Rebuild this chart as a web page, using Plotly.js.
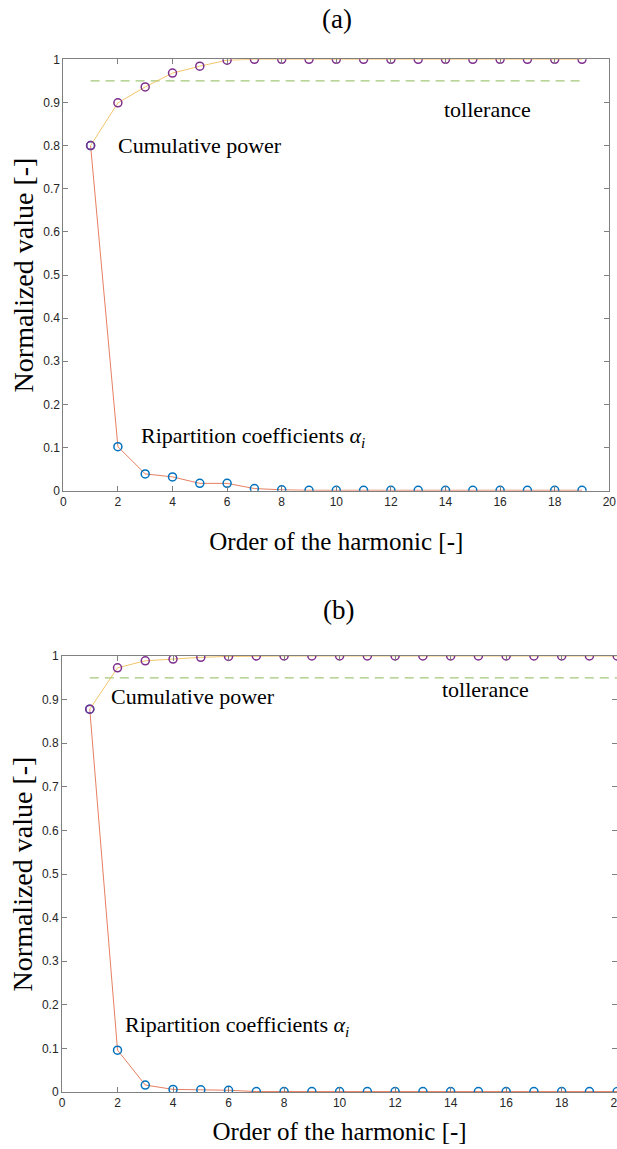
<!DOCTYPE html>
<html>
<head>
<meta charset="utf-8">
<script src="https://cdn.plot.ly/plotly-3.0.1.min.js"></script>
<style>
html,body{margin:0;padding:0;width:617px;height:1149px;overflow:hidden;background:#fff;}
#chart{width:640px;height:1149px;}
</style>
</head>
<body>
<div id="chart"></div>
<script>
// ---- Data (a) ----
const orderA = [1,2,3,4,5,6,7,8,9,10,11,12,13,14,15,16,17,18,19];
const ripartA = [0.800,0.102,0.039,0.032,0.017,0.017,0.005,0.002,0.001,0.001,0.001,0.001,0.001,0.001,0.001,0.001,0.001,0.001,0.001];
const cumulA = [0.800,0.899,0.936,0.968,0.984,0.998,1.000,1.000,1.000,1.000,1.000,1.000,1.000,1.000,1.000,1.000,1.000,1.000,1.000];
const tolXA = [1,19];
const tolYA = [0.95,0.95];

// ---- Data (b) ----
const orderB = [1,2,3,4,5,6,7,8,9,10,11,12,13,14,15,16,17,18,19,20];
const ripartB = [0.878,0.096,0.016,0.006,0.005,0.004,0.001,0.001,0.001,0.001,0.001,0.001,0.001,0.001,0.001,0.001,0.001,0.001,0.001,0.001];
const cumulB = [0.878,0.973,0.989,0.993,0.997,0.999,1.000,1.000,1.000,1.000,1.000,1.000,1.000,1.000,1.000,1.000,1.000,1.000,1.000,1.000];
const tolXB = [1,20];
const tolYB = [0.95,0.95];

const xTicks = [0,2,4,6,8,10,12,14,16,18,20];
const yTicks = [0,0.1,0.2,0.3,0.4,0.5,0.6,0.7,0.8,0.9,1];

const serif = 'Liberation Serif, Times New Roman, serif';
const sans = 'Liberation Sans, Arial, sans-serif';

const redLine = '#E2704F', yelLine = '#F0BE5A', blueMk = '#0072BD', purpMk = '#7E2F8E', green = '#A3C87A';

function traces(xs, rip, cum, tx, ty, xa, ya){
  return [
    {x: tx, y: ty, xaxis: xa, yaxis: ya, mode: 'lines', type: 'scatter',
     line: {color: green, width: 1.2, dash: '9px,6px'}, hoverinfo: 'skip'},
    {x: xs, y: rip, xaxis: xa, yaxis: ya, mode: 'lines+markers', type: 'scatter',
     line: {color: redLine, width: 0.9},
     marker: {symbol: 'circle-open', size: 8, color: blueMk, line: {width: 1.5, color: blueMk}}},
    {x: xs, y: cum, xaxis: xa, yaxis: ya, mode: 'lines+markers', type: 'scatter',
     line: {color: yelLine, width: 0.9},
     marker: {symbol: 'circle-open', size: 8, color: purpMk, line: {width: 1.5, color: purpMk}}}
  ];
}

const data = [].concat(
  traces(orderA, ripartA, cumulA, tolXA, tolYA, 'x', 'y'),
  traces(orderB, ripartB, cumulB, tolXB, tolYB, 'x2', 'y2')
);

function xaxisDef(dom, anchor, standoff){
  return {domain: dom, anchor: anchor, range: [0,20], tickvals: xTicks, ticktext: xTicks.map(String),
    ticks: 'inside', ticklen: 5, tickcolor: '#808080', showline: true, linecolor: '#808080', linewidth: 1,
    mirror: 'ticks', showgrid: false, zeroline: false,
    tickfont: {family: sans, size: 12, color: '#262626'},
    title: {text: 'Order of the harmonic [-]', font: {family: serif, size: 25, color: '#000'}, standoff: standoff}};
}
function yaxisDef(dom, anchor){
  return {domain: dom, anchor: anchor, range: [0,1], tickvals: yTicks, ticktext: yTicks.map(String),
    ticks: 'inside', ticklen: 5, tickcolor: '#808080', showline: true, linecolor: '#808080', linewidth: 1,
    mirror: 'ticks', showgrid: false, zeroline: false,
    tickfont: {family: sans, size: 12, color: '#262626'},
    title: {text: 'Normalized value [-]', font: {family: serif, size: 28, color: '#000'}, standoff: 1}};
}

const H = 1149, W = 640;
const layout = {
  width: W, height: H, margin: {l: 0, r: 0, t: 0, b: 0},
  paper_bgcolor: '#fff', plot_bgcolor: '#fff', showlegend: false,
  xaxis: xaxisDef([63.3/W, 609.3/W], 'y', 24),
  yaxis: yaxisDef([1-490.7/H, 1-59.3/H], 'x'),
  xaxis2: xaxisDef([62/W, 617.2/W], 'y2', 13),
  yaxis2: yaxisDef([1-1092/H, 1-656/H], 'x2'),
  annotations: [
    {text: '(a)', xref: 'paper', yref: 'paper', x: 337/W, y: 1-19/H, showarrow: false,
     xanchor: 'center', yanchor: 'middle', font: {family: serif, size: 27, color: '#000'}},
    {text: '(b)', xref: 'paper', yref: 'paper', x: 338/W, y: 1-610/H, showarrow: false,
     xanchor: 'center', yanchor: 'middle', font: {family: serif, size: 27, color: '#000'}},
    {text: 'Cumulative power', xref: 'x', yref: 'y', x: 1.93, y: 0.80, showarrow: false,
     xanchor: 'left', yanchor: 'middle', font: {family: serif, size: 22, color: '#000'}},
    {text: 'Ripartition coefficients <i>α<sub>i</sub></i>', xref: 'x', yref: 'y', x: 2.78, y: 0.124, showarrow: false,
     xanchor: 'left', yanchor: 'middle', font: {family: serif, size: 22, color: '#000'}},
    {text: 'tollerance', xref: 'x', yref: 'y', x: 13.87, y: 0.883, showarrow: false,
     xanchor: 'left', yanchor: 'middle', font: {family: serif, size: 22, color: '#000'}},
    {text: 'Cumulative power', xref: 'x2', yref: 'y2', x: 1.69, y: 0.906, showarrow: false,
     xanchor: 'left', yanchor: 'middle', font: {family: serif, size: 22, color: '#000'}},
    {text: 'Ripartition coefficients <i>α<sub>i</sub></i>', xref: 'x2', yref: 'y2', x: 2.2, y: 0.151, showarrow: false,
     xanchor: 'left', yanchor: 'middle', font: {family: serif, size: 22, color: '#000'}},
    {text: 'tollerance', xref: 'x2', yref: 'y2', x: 13.6, y: 0.924, showarrow: false,
     xanchor: 'left', yanchor: 'middle', font: {family: serif, size: 22, color: '#000'}}
  ]
};

Plotly.newPlot('chart', data, layout, {displayModeBar: false, staticPlot: true});
</script>
</body>
</html>
